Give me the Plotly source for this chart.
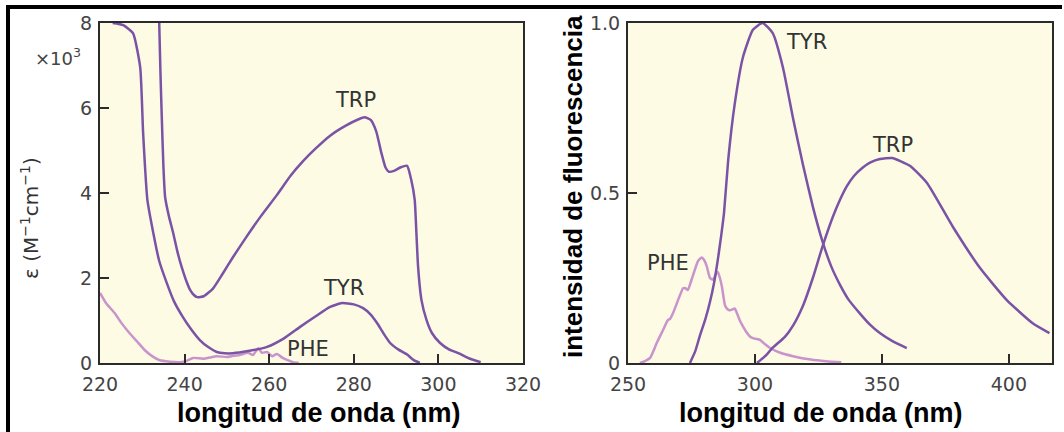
import plotly.graph_objects as go
from plotly.subplots import make_subplots

# ---- Absorbance data (epsilon in units of 10^3 M^-1 cm^-1) ----
trp_abs_nm = [234.0, 234.3, 234.6, 235.0, 235.4, 236.3, 237.3, 238.3, 239.3, 240.3, 241.3, 242.2,
              243.0, 244.5, 246.7, 249.0, 251.5, 254.5, 258.0, 261.8, 265.0, 268.0, 271.0, 274.4,
              278.0, 281.0, 282.6, 284.0, 285.3, 286.5, 287.5, 288.3, 289.5, 291.0, 292.6, 293.6,
              294.4, 294.8, 295.2, 296.0, 297.2, 298.5, 300.4, 302.5, 305.0, 307.5, 310.0]
trp_abs = [8.0, 6.8, 5.8, 4.6, 3.9, 3.45, 3.06, 2.62, 2.26, 1.96, 1.72, 1.6,
           1.55, 1.57, 1.75, 2.1, 2.5, 2.95, 3.45, 3.95, 4.4, 4.75, 5.05, 5.35,
           5.58, 5.73, 5.78, 5.72, 5.45, 4.95, 4.6, 4.5, 4.52, 4.6, 4.64, 4.3,
           3.84, 3.06, 2.26, 1.48, 1.01, 0.7, 0.47, 0.32, 0.22, 0.1, 0.02]

tyr_abs_nm = [223.0, 225.5, 227.8, 229.5, 230.2, 231.2, 232.6, 234.0, 235.8, 237.5, 239.6, 241.5,
              243.6, 245.5, 247.6, 249.5, 251.4, 255.0, 259.5, 263.5, 267.3, 271.0, 274.4, 277.2,
              280.0, 282.2, 284.0, 285.5, 287.0, 288.6, 290.5, 292.6, 294.0, 295.6]
tyr_abs = [8.0, 7.95, 7.76, 6.96, 5.4, 3.84, 3.06, 2.4, 1.88, 1.45, 1.08, 0.8,
           0.54, 0.38, 0.26, 0.23, 0.23, 0.28, 0.38, 0.58, 0.85, 1.1, 1.32, 1.41,
           1.38, 1.29, 1.14, 0.94, 0.7, 0.47, 0.32, 0.2, 0.08, 0.0]

phe_abs_nm = [220.0, 221.5, 223.5, 225.0, 227.0, 229.0, 230.6, 232.5, 234.0, 236.5, 239.0, 240.5,
              242.0, 244.4, 246.0, 247.6, 250.0, 251.5, 253.0, 255.0, 256.2, 257.4, 258.3, 259.5,
              260.7, 261.8, 263.2, 264.5, 265.6, 267.0]
phe_abs = [1.65, 1.4, 1.17, 0.95, 0.7, 0.48, 0.3, 0.15, 0.07, 0.03, 0.02, 0.05,
           0.12, 0.1, 0.13, 0.16, 0.14, 0.17, 0.19, 0.24, 0.19, 0.35, 0.24, 0.26,
           0.16, 0.21, 0.12, 0.06, 0.02, 0.0]

# ---- Fluorescence data (relative intensity) ----
tyr_fl_nm = [274.4, 276.5, 278.3, 280.5, 282.3, 284.0, 285.5, 286.8, 287.8, 289.5, 292.0, 295.3,
             299.2, 303.0, 307.0, 311.0, 315.0, 319.0, 322.8, 326.5, 330.0, 333.5, 337.0, 341.3,
             345.0, 349.2, 354.0, 359.8]
tyr_fl = [0.0, 0.035, 0.08, 0.13, 0.18, 0.24, 0.31, 0.38, 0.44, 0.6, 0.76, 0.9,
          0.98, 1.0, 0.97, 0.87, 0.72, 0.58, 0.46, 0.36, 0.285, 0.23, 0.185, 0.146,
          0.115, 0.088, 0.065, 0.044]

trp_fl_nm = [300.8, 304.0, 307.0, 311.8, 315.0, 319.0, 322.8, 326.5, 330.7, 333.5, 336.2, 339.0,
             342.5, 345.5, 349.2, 354.0, 361.0, 367.7, 378.0, 388.6, 399.2, 409.4, 416.0]
trp_fl = [0.0, 0.02, 0.045, 0.077, 0.11, 0.17, 0.25, 0.34, 0.43, 0.48, 0.52, 0.55,
          0.575, 0.59, 0.6, 0.603, 0.58, 0.53, 0.4, 0.28, 0.185, 0.117, 0.088]

phe_fl_nm = [254.7, 256.5, 258.7, 260.0, 261.4, 263.8, 265.7, 266.6, 267.7, 269.2, 270.5, 271.7,
             272.6, 273.6, 274.6, 275.7, 277.6, 279.0, 280.2, 281.0, 282.3, 283.5, 284.5, 285.4,
             286.2, 287.0, 288.2, 289.2, 290.2, 291.2, 292.1, 293.0, 294.0, 295.5, 296.9, 298.0,
             299.2, 300.5, 302.0, 304.0, 306.0, 310.0, 315.0, 322.0, 328.0, 334.0]
phe_fl = [0.0, 0.005, 0.015, 0.035, 0.06, 0.097, 0.126, 0.13, 0.146, 0.175, 0.2, 0.22,
          0.22, 0.215, 0.235, 0.26, 0.3, 0.31, 0.3, 0.285, 0.25, 0.245, 0.26, 0.268,
          0.25, 0.224, 0.17, 0.158, 0.155, 0.158, 0.16, 0.145, 0.126, 0.105, 0.088, 0.078,
          0.073, 0.071, 0.068, 0.055, 0.044, 0.03, 0.02, 0.01, 0.005, 0.002]

abs_xticks = [220, 240, 260, 280, 300, 320]
abs_yticks = [0, 2, 4, 6, 8]
fl_xticks = [250, 300, 350, 400]
fl_yticks = [0, 0.5, 1.0]
fl_yticktext = ["0", "0.5", "1.0"]

DARK = "#7a52a6"
LIGHT = "#c993cc"
BG = "#fdfbe3"
AX = "#2b2b2b"
TICKFONT = dict(family="DejaVu Sans", size=19, color="#444444")
LABELFONT = dict(family="DejaVu Sans", size=21, color="#333333")
XTITLEFONT = dict(family="Liberation Sans, Arial", size=27, color="#000000", weight="bold")
YTITLEFONT = dict(family="Liberation Sans, Arial", size=26, color="#000000", weight="bold")

W, H = 1064, 432

fig = make_subplots(rows=1, cols=2)

def line(x, y, color, col):
    fig.add_trace(go.Scatter(x=x, y=y, mode="lines",
                             line=dict(color=color, width=2.5, shape="spline", smoothing=0.5),
                             showlegend=False, hoverinfo="skip"), row=1, col=col)

line(phe_abs_nm, phe_abs, LIGHT, 1)
line(tyr_abs_nm, tyr_abs, DARK, 1)
line(trp_abs_nm, trp_abs, DARK, 1)
line(phe_fl_nm, phe_fl, LIGHT, 2)
line(tyr_fl_nm, tyr_fl, DARK, 2)
line(trp_fl_nm, trp_fl, DARK, 2)

common = dict(showline=True, mirror=True, linecolor=AX, linewidth=2, ticks="inside",
              ticklen=9, tickwidth=2, tickcolor=AX, showgrid=False, zeroline=False,
              tickfont=TICKFONT, automargin=False)

fig.update_xaxes(domain=[100 / W, 523 / W], range=[220, 320], tickvals=abs_xticks,
                 ticklabelstandoff=3, row=1, col=1, **common)
fig.update_yaxes(domain=[(H - 363) / H, (H - 23) / H], range=[0, 8], tickvals=abs_yticks,
                 ticklabelstandoff=2, row=1, col=1, **common)
fig.update_xaxes(domain=[628 / W, 1052 / W], range=[250, 417], tickvals=fl_xticks,
                 ticklabelstandoff=3, row=1, col=2, **common)
fig.update_yaxes(domain=[(H - 363) / H, (H - 23) / H], range=[0, 1], tickvals=fl_yticks,
                 ticktext=fl_yticktext, ticklabelstandoff=2, row=1, col=2, **common)

def px(x, y):
    return x / W, 1 - y / H

C = dict(xanchor="center", yanchor="middle", showarrow=False)

anns = []
# curve labels
anns += [
    dict(x=280.3, y=6.19, xref="x", yref="y", text="TRP", font=LABELFONT, **C),
    dict(x=277.6, y=1.76, xref="x", yref="y", text="TYR", font=LABELFONT, **C),
    dict(x=269.2, y=0.33, xref="x", yref="y", text="PHE", font=LABELFONT, **C),
    dict(x=320.5, y=0.944, xref="x2", yref="y2", text="TYR", font=LABELFONT, **C),
    dict(x=354.0, y=0.64, xref="x2", yref="y2", text="TRP", font=LABELFONT, **C),
    dict(x=265.7, y=0.293, xref="x2", yref="y2", text="PHE", font=LABELFONT, **C),
]
# exponent label
x0, y0 = px(58, 57)
anns.append(dict(x=x0, y=y0, xref="paper", yref="paper", text="×10<sup>3</sup>",
                 font=dict(family="DejaVu Sans", size=18, color="#444444"), **C))
# left y title
x0, y0 = px(30, 218)
anns.append(dict(x=x0, y=y0, xref="paper", yref="paper", textangle=-90,
                 text="ε (M<sup>−1</sup>cm<sup>−1</sup>)",
                 font=dict(family="DejaVu Sans", size=20, color="#333333"), **C))
# right y title
x0, y0 = px(573, 187)
anns.append(dict(x=x0, y=y0, xref="paper", yref="paper", textangle=-90,
                 text="intensidad de fluorescencia", font=YTITLEFONT, **C))
# x titles
for cx in (318, 820):
    x0, y0 = px(cx, 413)
    anns.append(dict(x=x0, y=y0, xref="paper", yref="paper", text="longitud de onda (nm)",
                     font=XTITLEFONT, **C))

shapes = [
    dict(type="line", xref="paper", yref="paper", x0=8 / W, x1=8 / W, y0=-0.05, y1=1 - 5 / H,
         line=dict(color="black", width=4)),
    dict(type="line", xref="paper", yref="paper", x0=6 / W, x1=1062 / W, y0=1 - 7 / H, y1=1 - 7 / H,
         line=dict(color="black", width=4)),
]

fig.update_layout(width=W, height=H, margin=dict(l=0, r=0, t=0, b=0),
                  paper_bgcolor="white", plot_bgcolor=BG,
                  annotations=anns, shapes=shapes)

fig.write_html("out.html")
